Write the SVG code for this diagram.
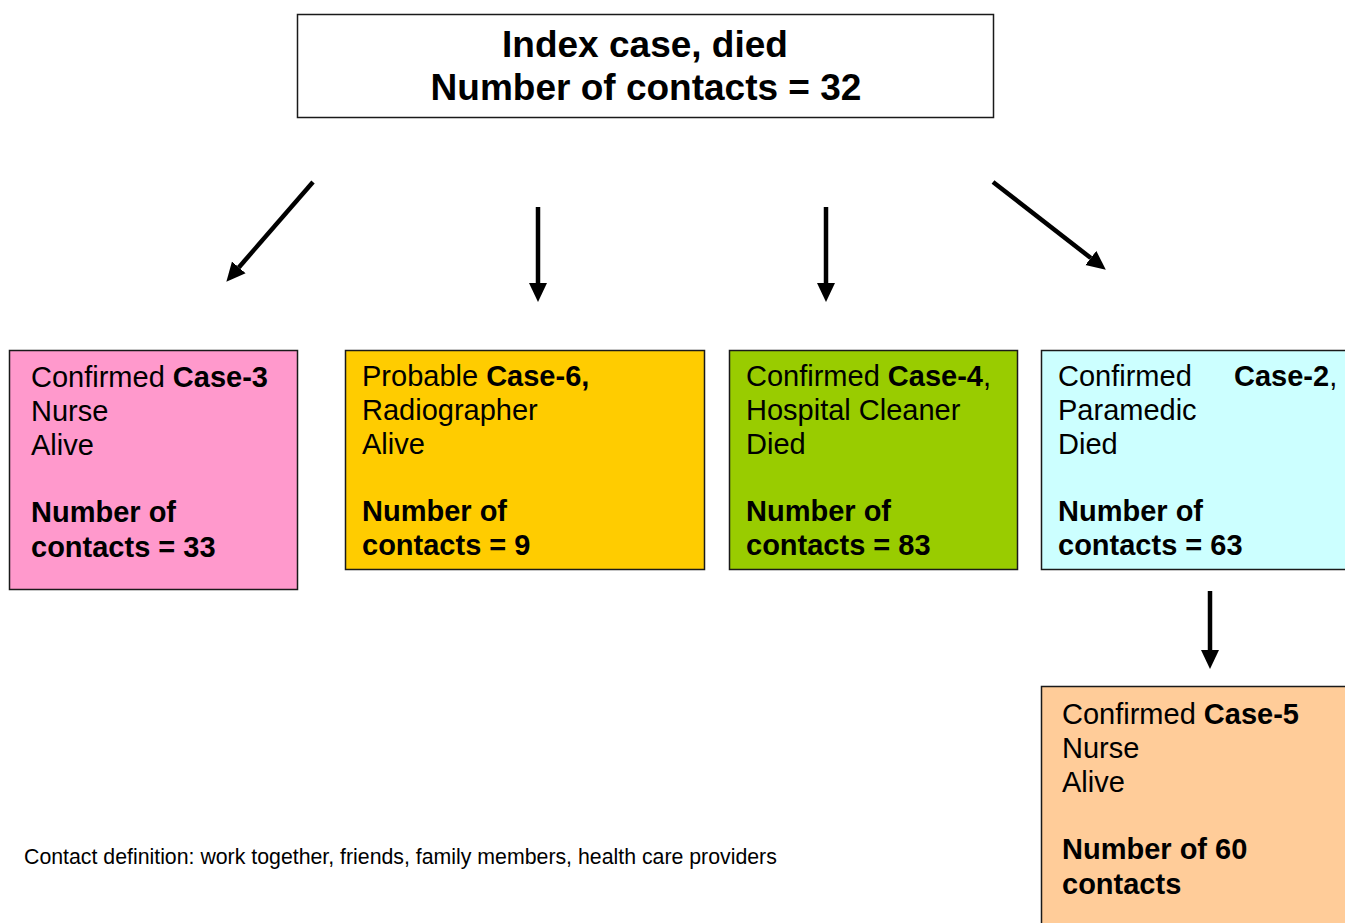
<svg xmlns="http://www.w3.org/2000/svg" width="1345" height="923" viewBox="0 0 1345 923">
<style>
text{font-family:"Liberation Sans",Arial,sans-serif;fill:#000}
.box{stroke:#1a1a1a;stroke-width:1.5}
.t{font-size:29px}
.b{font-weight:bold}
.title{font-size:37px;font-weight:bold}
.conn{stroke:#000;stroke-width:4.5;fill:none;marker-end:url(#ah)}
</style>
<defs>
<marker id="ah" markerUnits="userSpaceOnUse" markerWidth="20" markerHeight="20" refX="0" refY="10" orient="auto">
<path d="M0,1 L19,10 L0,19 z" fill="#000"/>
</marker>
</defs>
<rect width="1345" height="923" fill="#fff"/>
<g id="index">
<rect class="box" x="297.5" y="14.5" width="696" height="103" fill="#fff"/>
<text class="title" x="645" y="57" text-anchor="middle">Index case, died</text>
<text class="title" x="646" y="100" text-anchor="middle">Number of contacts = 32</text>
</g>
<g id="connectors">
<path class="conn" d="M313,182 L238.8,267.4"/>
<path class="conn" d="M538,207 L538,283"/>
<path class="conn" d="M826,207 L826,283"/>
<path class="conn" d="M993,182 L1090.8,258"/>
<path class="conn" d="M1210,591 L1210,650"/>
</g>
<g id="case3">
<rect class="box" x="9.5" y="350.5" width="288" height="239" fill="#FF99CC"/>
<text class="t" x="31" y="387">Confirmed <tspan class="b">Case-3</tspan></text>
<text class="t" x="31" y="421">Nurse</text>
<text class="t" x="31" y="455">Alive</text>
<text class="t b" x="31" y="522">Number of</text>
<text class="t b" x="31" y="557">contacts = 33</text>
</g>
<g id="case6">
<rect class="box" x="345.5" y="350.5" width="359" height="219" fill="#FFCC00"/>
<text class="t" x="362" y="386">Probable <tspan class="b">Case-6,</tspan></text>
<text class="t" x="362" y="420">Radiographer</text>
<text class="t" x="362" y="454">Alive</text>
<text class="t b" x="362" y="521">Number of</text>
<text class="t b" x="362" y="555">contacts = 9</text>
</g>
<g id="case4">
<rect class="box" x="729.5" y="350.5" width="288" height="219" fill="#99CC00"/>
<text class="t" x="746" y="386">Confirmed <tspan class="b">Case-4</tspan>,</text>
<text class="t" x="746" y="420">Hospital Cleaner</text>
<text class="t" x="746" y="454">Died</text>
<text class="t b" x="746" y="521">Number of</text>
<text class="t b" x="746" y="555">contacts = 83</text>
</g>
<g id="case2">
<rect class="box" x="1041.5" y="350.5" width="310" height="219" fill="#CCFFFF"/>
<text class="t" x="1058" y="386">Confirmed<tspan x="1234" class="b">Case-2</tspan>,</text>
<text class="t" x="1058" y="420">Paramedic</text>
<text class="t" x="1058" y="454">Died</text>
<text class="t b" x="1058" y="521">Number of</text>
<text class="t b" x="1058" y="555">contacts = 63</text>
</g>
<g id="case5">
<rect class="box" x="1041.5" y="686.5" width="310" height="250" fill="#FFCC99"/>
<text class="t" x="1062" y="724">Confirmed <tspan class="b">Case-5</tspan></text>
<text class="t" x="1062" y="758">Nurse</text>
<text class="t" x="1062" y="792">Alive</text>
<text class="t b" x="1062" y="859">Number of 60</text>
<text class="t b" x="1062" y="894">contacts</text>
</g>
<g id="footnote">
<text x="24" y="864" font-size="21.3">Contact definition: work together, friends, family members, health care providers</text>
</g>
</svg>
